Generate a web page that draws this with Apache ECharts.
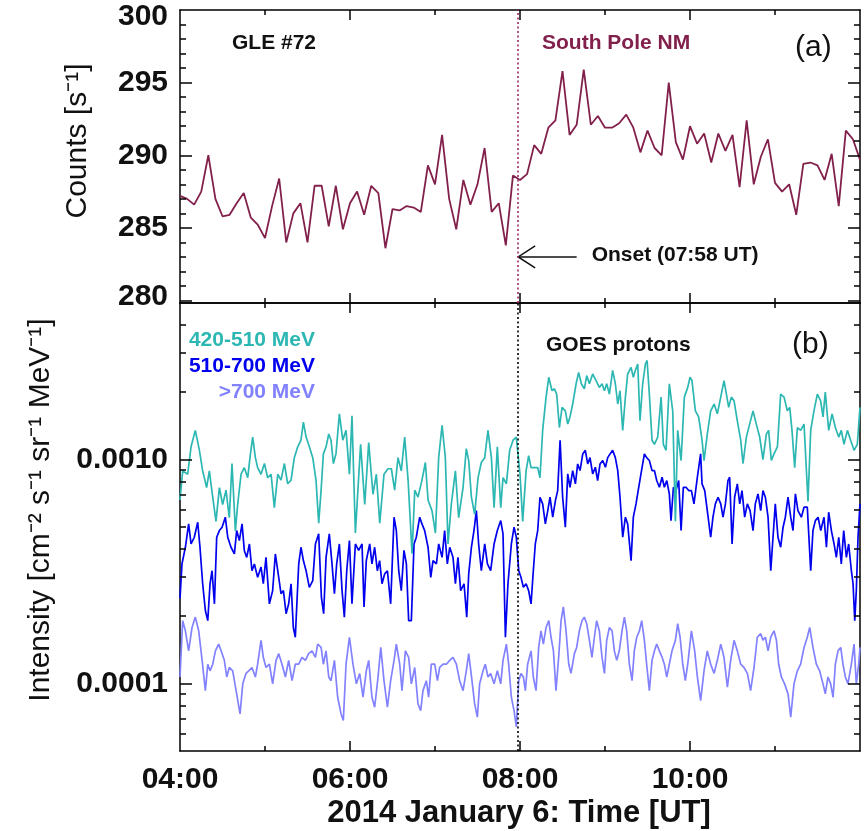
<!DOCTYPE html>
<html>
<head>
<meta charset="utf-8">
<script src="https://cdn.jsdelivr.net/npm/echarts@6/dist/echarts.min.js"></script>
<style>html,body{margin:0;padding:0;background:#fff}#chart{width:865px;height:831px}</style>
</head>
<body>
<div id="chart"></div>
<script>
// ---------------- data ----------------
const startHour = 4;            // 04:00 UT, left edge of both panels
const endHour = 12;             // 12:00 UT, right edge
const onsetMinute = 238;        // 07:58 UT (minutes after 04:00)
const arrowTailMinute = 280;    // tail of the onset arrow
const arrowLevel = 283.0;       // counts level of the onset arrow
const nmStepMinutes = 5;        // South Pole NM sampling

// South Pole neutron monitor, 5-min counts from 04:00 UT
const southPoleCounts = [
  287.2, 287.0, 286.6, 287.5, 290.0, 287.0, 285.8, 285.9, 286.7, 287.4, 285.7, 285.2,
  284.3, 286.5, 288.4, 284.0, 286.0, 286.7, 284.0, 287.9, 287.9, 285.1, 287.9, 284.9,
  286.7, 287.5, 285.9, 287.9, 287.4, 283.6, 286.3, 286.2, 286.5, 286.4, 286.1, 289.3,
  288.0, 291.4, 287.0, 284.9, 288.3, 286.6, 288.0, 290.5, 286.1, 286.7, 283.8, 288.6,
  288.3, 288.7, 290.7, 290.1, 291.9, 292.4, 295.8, 291.4, 292.1, 295.9, 292.1, 292.7,
  291.9, 291.9, 292.2, 292.8, 291.9, 290.2, 291.7, 290.5, 290.0, 295.0, 290.9, 289.7,
  292.0, 290.8, 291.5, 289.5, 291.5, 290.3, 291.4, 287.8, 292.4, 288.0, 289.9, 291.1,
  288.1, 287.5, 288.0, 285.9, 289.4, 289.5, 289.3, 288.3, 290.1, 286.5, 291.7, 291.1,
  289.7
];

// GOES protons: [minutes after 04:00 UT, intensity]
const goes420to510 = [
  [0,0.00066],[1.9,0.00089],[5.4,0.00086],[7.8,0.00114],[10.8,0.00135],[13.7,0.0011],[16.0,0.00089],[18.8,0.00075],
  [20.7,0.00089],[23.1,0.00068],[25.4,0.00053],[27.8,0.00075],[30.1,0.00063],[32.5,0.00073],[34.8,0.00055],[36.7,0.00096],
  [39.1,0.00048],[40.7,0.00063],[43.1,0.00086],[45.4,0.00092],[47.8,0.00083],[49.4,0.00102],[51.3,0.00126],[53.2,0.00102],
  [54.8,0.00092],[57.2,0.00086],[59.6,0.00096],[61.9,0.00083],[64.3,0.00086],[66.6,0.00061],[69.0,0.00086],[71.3,0.00081],
  [73.7,0.00096],[76.0,0.00078],[78.4,0.00081],[80.7,0.00102],[83.1,0.00114],[85.4,0.00122],[87.1,0.00147],[89.0,0.00126],
  [91.3,0.00114],[93.7,0.00102],[96.0,0.00081],[97.9,0.00052],[99.6,0.00073],[101.2,0.00106],[103.1,0.00114],[105.0,0.0013],
  [106.6,0.00122],[108.3,0.00096],[110.1,0.00106],[112.5,0.0016],[114.9,0.00122],[117.2,0.00135],[119.6,0.00086],
  [121.4,0.00157],[123.8,0.00047],[127.5,0.00117],[130.4,0.00063],[133.2,0.00119],[136.2,0.0007],[138.6,0.00086],[141.0,0.00052],
  [144.0,0.00086],[146.8,0.00091],[149.2,0.00091],[151.5,0.00073],[153.9,0.00102],[156.2,0.00089],[158.6,0.00126],[161.0,0.00081],
  [163.8,0.00038],[165.7,0.00073],[168.0,0.00068],[170.8,0.00081],[173.2,0.00097],[175.1,0.00066],[177.9,0.00059],[180.3,0.00047],
  [182.6,0.00102],[185.0,0.00142],[187.3,0.00102],[189.2,0.00042],[191.5,0.00063],[194.4,0.00089],[196.7,0.00055],[199.8,0.00075],
  [202.1,0.00112],[203.8,0.00099],[205.7,0.00068],[208.0,0.00057],[210.4,0.00083],[212.7,0.00097],[215.1,0.00102],[217.4,0.00135],
  [219.8,0.00102],[221.7,0.00061],[224.0,0.00114],[226.4,0.00061],[228.0,0.00083],[230.4,0.00078],[232.7,0.0011],[235.1,0.00122],
  [237.4,0.00126],[240.0,0.00086],[241.9,0.00053],[244.3,0.00089],[246.1,0.00104],[247.8,0.00092],[250.1,0.00092],[252.5,0.00092],
  [254.1,0.00083],[256.0,0.00135],[258.4,0.0019],[260.3,0.00233],[262.6,0.00203],[264.3,0.00207],[265.9,0.00196],[267.8,0.00139],
  [269.7,0.00171],[272.0,0.00165],[273.7,0.00144],[275.3,0.00155],[277.2,0.00177],[279.6,0.00218],[281.4,0.00245],[283.3,0.00218],
  [285.4,0.00207],[287.1,0.00237],[289.0,0.00218],[291.3,0.00241],[293.7,0.00225],[296.0,0.0021],[297.9,0.00218],[299.6,0.00203],
  [301.2,0.00218],[303.1,0.00196],[305.4,0.0025],[307.3,0.00218],[309.0,0.00177],[310.6,0.00203],[312.5,0.00135],[314.4,0.0019],
  [316.0,0.00241],[318.4,0.00258],[320.0,0.00233],[321.4,0.0025],[323.1,0.00267],[324.7,0.00149],[326.6,0.00218],[328.5,0.00267],
  [329.7,0.00277],[331.3,0.00196],[333.2,0.00122],[334.9,0.00117],[337.2,0.00126],[339.6,0.0019],[341.2,0.00117],[343.1,0.0011],
  [345.4,0.00218],[347.8,0.00165],[349.7,0.00053],[351.3,0.00135],[353.7,0.00099],[356.0,0.0019],[358.4,0.0021],[360.0,0.00233],
  [361.4,0.00225],[363.8,0.00165],[366.1,0.00155],[368.5,0.00122],[369.9,0.00099],[372.2,0.0013],[374.6,0.00165],[377.0,0.00177],
  [379.3,0.0016],[381.7,0.0019],[384.0,0.00225],[385.7,0.00196],[387.3,0.00171],[389.2,0.0019],[391.1,0.00183],[393.4,0.00149],
  [395.8,0.00122],[397.4,0.00096],[399.8,0.00126],[402.1,0.00144],[404.5,0.00165],[406.8,0.00144],[409.2,0.00126],[411.5,0.001],
  [413.9,0.0013],[415.5,0.00135],[417.4,0.00099],[419.3,0.00106],[421.7,0.00114],[424.0,0.00196],[426.4,0.0019],[428.7,0.00165],
  [430.4,0.00171],[432.0,0.00135],[433.9,0.00092],[435.8,0.00139],[438.1,0.00135],[440.5,0.00144],[443.3,0.00065],[445.2,0.00135],
  [447.5,0.00165],[449.9,0.00196],[452.2,0.00183],[453.9,0.00155],[455.5,0.002],[457.9,0.00135],[460.3,0.0016],[462.6,0.00139],
  [465.0,0.00126],[466.8,0.00135],[468.7,0.00117],[471.1,0.00135],[473.4,0.00122],[475.8,0.0011],[478.1,0.00117],[480,0.00171]
];

const goes510to700 = [
  [0,0.00024],[1.4,0.000342],[3.8,0.000406],[6.1,0.000516],[7.8,0.00042],[10.1,0.00045],[12.5,0.000525],[14.1,0.000406],
  [16.0,0.000279],[17.9,0.000212],[19.6,0.000191],[21.2,0.000279],[22.6,0.000319],[24.3,0.000227],[25.9,0.00045],[27.8,0.000482],
  [29.7,0.000499],[32.0,0.000553],[33.7,0.00045],[36.0,0.000406],[38.4,0.000379],[40.0,0.000482],[41.9,0.000435],[43.8,0.000516],
  [45.4,0.000393],[47.1,0.000366],[49.0,0.00042],[50.8,0.000319],[52.5,0.000342],[54.8,0.000298],[57.2,0.000331],[58.8,0.000279],
  [60.7,0.000366],[63.1,0.000227],[65.4,0.00026],[67.3,0.000379],[69.0,0.000319],[71.3,0.000252],[73.0,0.00026],[74.9,0.000205],
  [76.7,0.000227],[78.4,0.000279],[80.0,0.000178],[81.4,0.000161],[83.8,0.000342],[85.4,0.000406],[87.1,0.000354],[89.0,0.000319],
  [91.3,0.000269],[93.7,0.000288],[95.6,0.00042],[97.9,0.000466],[99.8,0.000243],[101.4,0.000205],[103.1,0.000366],[105.4,0.000466],
  [107.3,0.000342],[109.0,0.000252],[110.6,0.000342],[112.5,0.00042],[114.4,0.00026],[116.0,0.000198],[117.7,0.000319],[119.6,0.000435],
  [121.4,0.000227],[123.8,0.00042],[126.1,0.000393],[128.5,0.00042],[129.9,0.00022],[131.5,0.000354],[133.9,0.00042],[135.5,0.000342],
  [137.4,0.000406],[139.3,0.000319],[140.9,0.000354],[142.6,0.000279],[144.5,0.000309],[146.4,0.000319],[148.7,0.000227],[151.1,0.000553],
  [152.7,0.000482],[154.4,0.000319],[156.2,0.00026],[158.1,0.000393],[159.8,0.000342],[161.4,0.000191],[163.3,0.000191],[165.2,0.00042],
  [166.8,0.00045],[169.2,0.000553],[170.8,0.000516],[172.7,0.000482],[175.1,0.000406],[177.0,0.000298],[178.6,0.000354],[181.0,0.000342],
  [182.6,0.00042],[185.0,0.000366],[186.8,0.000482],[188.7,0.000342],[190.4,0.000406],[192.7,0.000366],[194.4,0.000279],[196.2,0.000366],
  [198.1,0.00026],[200.5,0.000279],[202.4,0.000198],[203.8,0.000309],[205.7,0.000406],[207.5,0.000482],[209.2,0.000592],[210.8,0.00042],
  [212.7,0.000319],[215.1,0.00042],[217.0,0.000342],[219.3,0.000319],[221.7,0.00042],[224.0,0.000482],[226.4,0.000534],[228.0,0.000466],
  [229.7,0.000161],[231.5,0.000279],[233.9,0.00042],[235.8,0.000499],[237.4,0.00045],[239.1,0.000319],[240.7,0.000298],[242.4,0.000269],
  [244.3,0.000279],[246.1,0.00026],[247.8,0.000227],[249.4,0.000319],[250.8,0.00042],[252.5,0.000482],[254.1,0.000679],[256.0,0.000634],
  [257.9,0.000516],[259.6,0.000592],[261.2,0.000679],[263.1,0.000553],[265.0,0.000656],[266.6,0.000727],[268.3,0.00122],[270.1,0.000679],
  [272.0,0.000499],[273.7,0.000863],[275.3,0.000752],[277.2,0.000893],[279.1,0.000779],[280.7,0.000956],[282.4,0.000893],[284.3,0.00106],
  [286.1,0.0011],[287.8,0.000956],[289.4,0.00102],[291.3,0.000863],[293.2,0.000924],[294.8,0.000806],[296.5,0.000956],[298.4,0.00099],
  [300.3,0.000924],[301.9,0.00102],[303.6,0.00106],[305.4,0.0011],[307.3,0.00102],[309.0,0.000893],[310.6,0.000679],[312.5,0.00045],
  [314.4,0.000553],[316.0,0.000516],[318.4,0.000354],[320.0,0.000553],[321.9,0.000634],[323.8,0.000752],[325.4,0.000863],[327.8,0.00106],
  [329.4,0.00102],[331.3,0.00099],[333.2,0.000893],[334.9,0.000893],[336.5,0.000806],[338.4,0.000752],[340.3,0.000834],[341.9,0.000752],
  [343.6,0.000806],[345.4,0.000703],[346.6,0.000534],[348.3,0.000752],[350.1,0.000727],[352.0,0.000806],[353.7,0.000482],[355.3,0.000752],
  [357.2,0.000752],[359.1,0.000727],[361.0,0.000727],[362.8,0.000634],[365.2,0.000834],[367.5,0.00106],[368.5,0.000779],[370.4,0.000727],
  [372.2,0.000592],[374.6,0.00045],[376.2,0.000553],[377.9,0.000634],[379.8,0.000679],[381.7,0.000634],[383.3,0.000553],[385.0,0.000634],
  [386.8,0.000806],[388.0,0.000834],[389.7,0.00042],[391.5,0.000679],[393.4,0.000779],[395.1,0.000634],[396.7,0.000727],[398.6,0.000553],
  [400.5,0.000634],[402.4,0.000592],[404.5,0.000482],[406.1,0.000634],[408.0,0.000703],[409.9,0.000592],[411.5,0.000727],[413.2,0.000679],
  [415.1,0.000553],[417.0,0.000319],[418.6,0.00045],[420.2,0.000634],[422.1,0.00045],[424.0,0.000406],[425.7,0.000499],[427.3,0.000553],
  [429.2,0.000679],[431.1,0.000553],[432.7,0.000482],[434.4,0.000703],[436.2,0.000592],[438.6,0.000553],[440.5,0.000613],[442.8,0.000613],
  [445.2,0.000319],[446.8,0.000482],[448.5,0.000534],[450.4,0.000553],[452.3,0.000482],[454.6,0.000553],[456.3,0.000406],[457.9,0.000582],
  [459.8,0.000482],[461.7,0.00042],[463.3,0.000366],[465.0,0.00045],[466.8,0.000342],[468.5,0.000482],[470.4,0.000366],[472.0,0.00042],
  [473.9,0.000319],[475.1,0.000279],[476.3,0.000191],[477.4,0.00026],[478.6,0.00045],[480,0.000634]
];

const goesAbove700 = [
  [0,0.000107],[1.9,0.000191],[3.8,0.000172],[6.1,0.00014],[8.5,0.000178],[10.8,0.000198],[13.2,0.000172],[15.6,0.000127],
  [17.9,0.000093],[19.6,0.000122],[21.2,0.000114],[23.1,0.000122],[25.0,0.00014],[27.3,0.00015],[29.0,0.00014],[31.3,0.000127],
  [33.0,0.000107],[34.8,0.000118],[37.2,0.000114],[39.6,0.000093],[42.4,0.0000732],[44.3,0.0000997],[46.6,0.000111],[48.5,0.000114],
  [50.8,0.000118],[53.2,0.000107],[54.8,0.000122],[57.2,0.000156],[58.8,0.000131],[60.7,0.000118],[63.1,0.000122],[65.4,0.0000997],
  [67.8,0.000127],[69.7,0.000136],[72.0,0.000122],[74.4,0.000107],[76.7,0.000127],[79.1,0.000103],[81.4,0.000122],[83.8,0.000122],
  [86.1,0.000131],[88.5,0.000127],[90.8,0.000136],[93.2,0.00014],[95.6,0.000131],[97.2,0.00015],[99.6,0.000145],[101.2,0.000122],
  [103.1,0.00014],[105.0,0.000107],[106.6,0.000103],[109.0,0.000127],[111.3,0.0000869],[113.7,0.0000732],[115.3,0.0000684],[117.2,0.000122],
  [119.6,0.000161],[122.1,0.000122],[124.5,0.0000997],[126.8,0.000111],[129.2,0.0000869],[131.5,0.000114],[133.2,0.000127],[135.5,0.0000869],
  [137.4,0.0000784],[139.8,0.000107],[141.7,0.000145],[144.0,0.000103],[146.4,0.0000784],[148.7,0.000103],[151.1,0.000127],[152.7,0.00015],
  [155.1,0.000122],[156.7,0.000093],[159.1,0.00014],[161.4,0.000131],[163.3,0.0000997],[165.7,0.000118],[168.0,0.0000811],[169.9,0.0000757],
  [171.5,0.000093],[173.9,0.000103],[175.5,0.0000869],[177.4,0.000122],[179.8,0.000122],[181.7,0.000103],[183.3,0.000118],[185.7,0.000122],
  [188.0,0.000122],[190.4,0.000127],[192.7,0.000131],[195.1,0.000122],[197.4,0.000103],[199.8,0.000093],[202.1,0.000114],[203.8,0.000136],
  [206.1,0.000103],[208.0,0.0000811],[209.9,0.0000708],[211.5,0.0000997],[213.9,0.000114],[215.5,0.000122],[217.4,0.000107],[219.3,0.000111],
  [221.7,0.0000997],[224.0,0.000114],[226.4,0.0000997],[228.0,0.000127],[230.4,0.00015],[232.0,0.000122],[233.9,0.0000869],[235.8,0.0000757],
  [237.4,0.000064],[239.1,0.000103],[240.7,0.000111],[242.4,0.000107],[243.8,0.000093],[245.4,0.000122],[247.8,0.00014],[249.4,0.000107],
  [251.3,0.000093],[253.2,0.000145],[254.8,0.000172],[256.5,0.00015],[258.4,0.000178],[260.3,0.000191],[261.9,0.000161],[263.6,0.00014],
  [265.4,0.000093],[267.3,0.000131],[269.0,0.000191],[270.6,0.00022],[272.5,0.000172],[274.4,0.000122],[276.0,0.000111],[278.4,0.000136],
  [280.0,0.000145],[281.9,0.000172],[283.8,0.000191],[285.4,0.000198],[287.1,0.000185],[289.0,0.000156],[290.8,0.000131],[292.5,0.000161],
  [294.1,0.000191],[296.0,0.000172],[297.9,0.000131],[299.6,0.000111],[301.2,0.000156],[303.1,0.000178],[305.0,0.000172],[306.6,0.00014],
  [308.3,0.000127],[310.1,0.00014],[312.0,0.000172],[313.7,0.000198],[315.3,0.000172],[317.2,0.000122],[319.1,0.000103],[320.7,0.00014],
  [322.4,0.000161],[324.3,0.000172],[325.9,0.000191],[327.8,0.000156],[329.4,0.000122],[331.3,0.000093],[333.2,0.000127],[334.9,0.00014],
  [336.5,0.00015],[338.4,0.00014],[340.3,0.000131],[341.9,0.000122],[343.6,0.000107],[345.4,0.000122],[347.3,0.00014],[349.7,0.000156],
  [351.3,0.000185],[353.0,0.000161],[354.9,0.000122],[356.7,0.000103],[358.4,0.000122],[361.0,0.000172],[363.3,0.00014],[365.2,0.000107],
  [367.5,0.0000839],[369.9,0.000114],[372.2,0.00014],[374.6,0.000122],[377.0,0.000111],[379.3,0.000127],[381.7,0.00015],[384.0,0.000131],
  [386.4,0.0000963],[388.7,0.000127],[391.1,0.000156],[393.4,0.00014],[395.8,0.000122],[398.1,0.000118],[400.5,0.000111],[402.8,0.000093],
  [405.2,0.000118],[407.5,0.000161],[409.9,0.000167],[411.5,0.000156],[413.2,0.000161],[415.1,0.00014],[417.0,0.000161],[419.3,0.000172],
  [421.0,0.000156],[422.6,0.000122],[424.5,0.000107],[426.8,0.0000997],[429.2,0.0000899],[431.1,0.0000708],[433.4,0.0000997],[435.8,0.000114],
  [438.1,0.000122],[440.5,0.000145],[442.8,0.000161],[444.5,0.000178],[446.8,0.000145],[449.2,0.000122],[451.5,0.000114],[453.9,0.0000997],
  [455.5,0.0000899],[457.4,0.000107],[459.3,0.0000997],[461.0,0.0000869],[462.6,0.000122],[464.5,0.00014],[466.4,0.000145],[468.0,0.000122],
  [469.7,0.000107],[471.5,0.0000997],[473.9,0.000122],[475.8,0.00015],[477.4,0.0000997],[479.1,0.000122],[480,0.000145]
];

// axis ticks / ranges
const countRange = [279.83, 300];
const countTicks = [280, 285, 290, 295, 300];
const intensityRange = [0.00005, 0.005];
const intensityTicks = [0.0001, 0.0010];
const intensityTickLabels = ['0.0001', '0.0010'];

// ---------------- layout / style ----------------
const FONT = '"Liberation Sans", Arial, Helvetica, sans-serif';
const AX = '#000';
const MAROON = '#82204C';
const CYAN = '#2CB7B2';
const BLUE = '#0000EE';
const LIGHT = '#8282FF';
const PLOT_W = 680, TOP_H = 293, BOT_H = 448;   // grid sizes in px
const MAJOR_LEN = 12, MINOR_LEN = 6, XMAJOR_LEN = 10, XMINOR_LEN = 5; // tick lengths in px

const hourOf = m => startHour + m / 60;
const onsetHour = hourOf(onsetMinute);
const nmData = southPoleCounts.map((c, i) => [startHour + i * nmStepMinutes / 60, c]);
const toLogPts = arr => arr.map(p => [hourOf(p[0]), Math.log10(p[1])]);

const countMinor = [];
for (let v = Math.ceil(countRange[0]); v <= countRange[1]; v++) if (v % 5 !== 0) countMinor.push(v);
const logMin = Math.log10(intensityRange[0]), logMax = Math.log10(intensityRange[1]);
const intensityMajorLog = intensityTicks.map(v => Math.log10(v));
const intensityMinorLog = [];
for (let e = -5; e <= -3; e++) for (let k = 2; k <= 9; k++) {
  const l = Math.log10(k * Math.pow(10, e));
  if (l > logMin + 1e-6 && l < logMax - 1e-6) intensityMinorLog.push(l);
}

// Inside tick marks as markLine segments in each panel's data space (go through the axes' scales)
function frameTicks(yRange, plotH, majors, minors) {
  const hPerPx = (endHour - startHour) / PLOT_W;
  const vPerPx = (yRange[1] - yRange[0]) / plotH;
  const segs = [];
  const seg = (a, b) => segs.push([{ coord: a }, { coord: b }]);
  const yt = (v, len) => {
    seg([startHour, v], [startHour + len * hPerPx, v]);
    seg([endHour - len * hPerPx, v], [endHour, v]);
  };
  majors.forEach(v => yt(v, MAJOR_LEN));
  minors.forEach(v => yt(v, MINOR_LEN));
  for (let h = startHour + 1; h < endHour; h++) {
    const len = (h % 2 === 0 ? XMAJOR_LEN : XMINOR_LEN) * vPerPx;
    seg([h, yRange[0]], [h, yRange[0] + len]);
    seg([h, yRange[1] - len], [h, yRange[1]]);
  }
  return segs;
}

function xAx(grid, pos, labels) {
  return {
    type: 'value', gridIndex: grid, position: pos, min: startHour, max: endHour, interval: 2,
    axisLine: { show: true, onZero: false, lineStyle: { color: AX, width: 1.5 } },
    axisTick: { show: false },
    splitLine: { show: false }, minorSplitLine: { show: false },
    axisLabel: labels ? {
      show: true, margin: 14, fontFamily: FONT, fontWeight: 'bold', fontSize: 30, color: '#111',
      showMinLabel: true, showMaxLabel: false,
      formatter: v => (v < 10 ? '0' : '') + v + ':00'
    } : { show: false }
  };
}
function yAx(grid, pos, range, label) {
  return {
    type: 'value', gridIndex: grid, position: pos, min: range[0], max: range[1],
    axisLine: { show: true, onZero: false, lineStyle: { color: AX, width: 1.5 } },
    axisTick: { show: false },
    splitLine: { show: false },
    axisLabel: label || { show: false }
  };
}
const labelStyle = { show: true, margin: 12, fontFamily: FONT, fontWeight: 'bold', fontSize: 30, color: '#111' };
const richBase = { fontFamily: FONT, fontWeight: 'bold', fontSize: 30, color: '#111' };
const tickLine = { color: AX, type: 'solid', width: 1.5 };

const chart = echarts.init(document.getElementById('chart'), null, { renderer: 'canvas' });
const option = {
  animation: false,
  backgroundColor: '#fff',
  grid: [
    { left: 180, right: 5, top: 10, height: TOP_H, outerBoundsMode: 'none', containLabel: false },
    { left: 180, right: 5, top: 10 + TOP_H, height: BOT_H, outerBoundsMode: 'none', containLabel: false }
  ],
  xAxis: [
    xAx(0, 'bottom', false), xAx(0, 'top', false),
    xAx(1, 'bottom', true), xAx(1, 'top', false)
  ],
  yAxis: [
    yAx(0, 'left', countRange, Object.assign({
      customValues: countTicks,
      formatter: v => v === countTicks[countTicks.length - 1] ? '{top|' + v + '}'
                     : v === countTicks[0] ? '{bot|' + v + '}' : '{n|' + v + '}',
      rich: {
        n: Object.assign({}, richBase),
        top: Object.assign({ padding: [14, 0, 0, 0] }, richBase),
        bot: Object.assign({ padding: [0, 0, 8, 0] }, richBase)
      }
    }, labelStyle)),
    yAx(0, 'right', countRange),
    yAx(1, 'left', [logMin, logMax], Object.assign({
      customValues: intensityMajorLog,
      formatter: v => {
        let best = 0;
        intensityMajorLog.forEach((l, i) => { if (Math.abs(l - v) < Math.abs(intensityMajorLog[best] - v)) best = i; });
        return intensityTickLabels[best];
      }
    }, labelStyle)),
    yAx(1, 'right', [logMin, logMax])
  ],
  series: [
    {
      type: 'line', xAxisIndex: 0, yAxisIndex: 0, data: nmData, showSymbol: false,
      lineStyle: { color: MAROON, width: 1.8 }, itemStyle: { color: MAROON },
      markLine: {
        silent: true, symbol: ['none', 'none'], label: { show: false }, animation: false,
        emphasis: { disabled: true },
        lineStyle: tickLine,
        data: [{ xAxis: onsetHour, lineStyle: { color: '#9B2A66', type: [2, 2.5], width: 1.6 } }]
          .concat(frameTicks(countRange, TOP_H, countTicks.filter(v => v < countRange[1]), countMinor))
      }
    },
    {
      name: '>700 MeV', type: 'line', xAxisIndex: 2, yAxisIndex: 2, data: toLogPts(goesAbove700), showSymbol: false,
      lineStyle: { color: LIGHT, width: 1.7 }, itemStyle: { color: LIGHT },
      markLine: {
        silent: true, symbol: ['none', 'none'], label: { show: false }, animation: false,
        emphasis: { disabled: true },
        lineStyle: tickLine,
        data: [{ xAxis: onsetHour, lineStyle: { color: '#000', type: [2, 2.5], width: 1.6 } }]
          .concat(frameTicks([logMin, logMax], BOT_H, intensityMajorLog, intensityMinorLog))
      }
    },
    {
      name: '510-700 MeV', type: 'line', xAxisIndex: 2, yAxisIndex: 2, data: toLogPts(goes510to700), showSymbol: false,
      lineStyle: { color: BLUE, width: 1.7 }, itemStyle: { color: BLUE }
    },
    {
      name: '420-510 MeV', type: 'line', xAxisIndex: 2, yAxisIndex: 2, data: toLogPts(goes420to510), showSymbol: false,
      lineStyle: { color: CYAN, width: 1.7 }, itemStyle: { color: CYAN }
    }
  ],
  graphic: [
    { id: 'ytitle1', type: 'text', x: 78, y: 141, rotation: Math.PI / 2,
      style: { text: 'Counts [s\u207B\u00B9]', font: '30px ' + FONT, fill: '#111', align: 'center', verticalAlign: 'middle' } },
    { id: 'ytitle2', type: 'text', x: 41, y: 510, rotation: Math.PI / 2,
      style: { text: 'Intensity [cm\u207B\u00B2 s\u207B\u00B9 sr\u207B\u00B9 MeV\u207B\u00B9]', font: '30px ' + FONT, fill: '#111', align: 'center', verticalAlign: 'middle' } },
    { id: 'xtitle', type: 'text', x: 519, y: 813,
      style: { text: '2014 January 6: Time [UT]', font: 'bold 31px ' + FONT, fill: '#111', align: 'center', verticalAlign: 'middle' } },
    { id: 'gle', type: 'text', x: 232, y: 43,
      style: { text: 'GLE #72', font: 'bold 21px ' + FONT, fill: '#111', align: 'left', verticalAlign: 'middle' } },
    { id: 'spnm', type: 'text', x: 542, y: 43,
      style: { text: 'South Pole NM', font: 'bold 21px ' + FONT, fill: MAROON, align: 'left', verticalAlign: 'middle' } },
    { id: 'pa', type: 'text', x: 795, y: 48,
      style: { text: '(a)', font: '30px ' + FONT, fill: '#111', align: 'left', verticalAlign: 'middle' } },
    { id: 'goes', type: 'text', x: 546, y: 345,
      style: { text: 'GOES protons', font: 'bold 21px ' + FONT, fill: '#111', align: 'left', verticalAlign: 'middle' } },
    { id: 'pb', type: 'text', x: 792, y: 345,
      style: { text: '(b)', font: '30px ' + FONT, fill: '#111', align: 'left', verticalAlign: 'middle' } },
    { id: 'l1', type: 'text', x: 315, y: 340,
      style: { text: '420-510 MeV', font: 'bold 21px ' + FONT, fill: CYAN, align: 'right', verticalAlign: 'middle' } },
    { id: 'l2', type: 'text', x: 315, y: 366,
      style: { text: '510-700 MeV', font: 'bold 21px ' + FONT, fill: BLUE, align: 'right', verticalAlign: 'middle' } },
    { id: 'l3', type: 'text', x: 315, y: 392,
      style: { text: '>700 MeV', font: 'bold 21px ' + FONT, fill: LIGHT, align: 'right', verticalAlign: 'middle' } }
  ]
};
chart.setOption(option);

// ---- onset arrow, positioned through the top panel's axes ----
const tip = chart.convertToPixel({ seriesIndex: 0 }, [onsetHour, arrowLevel]);
const tail = chart.convertToPixel({ seriesIndex: 0 }, [hourOf(arrowTailMinute), arrowLevel]);
chart.setOption({
  graphic: [
    { id: 'arrowShaft', type: 'line', shape: { x1: tail[0], y1: tail[1], x2: tip[0] + 1, y2: tip[1] },
      style: { stroke: '#111', lineWidth: 1.5 } },
    { id: 'arrowHead', type: 'polyline', shape: { points: [[tip[0] + 18, tip[1] - 11], [tip[0] + 1, tip[1]], [tip[0] + 18, tip[1] + 11]] },
      style: { stroke: '#111', lineWidth: 1.5, fill: null } },
    { id: 'onsetText', type: 'text', x: tail[0] + 15, y: tip[1] - 2,
      style: { text: 'Onset (07:58 UT)', font: 'bold 21px ' + FONT, fill: '#111', align: 'left', verticalAlign: 'middle' } }
  ]
});
</script>
</body>
</html>
